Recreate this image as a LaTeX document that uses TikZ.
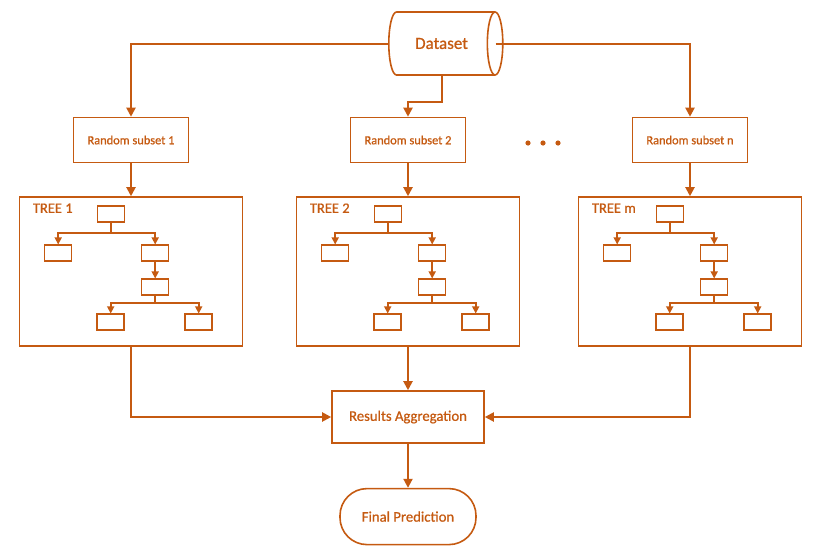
\documentclass[tikz,border=0pt]{standalone}
\usepackage{xcolor}
\usepackage{fontspec}
\setmainfont{Carlito}[FakeBold=0.8]
\usepackage{tikz}
\usetikzlibrary{shapes.geometric, arrows.meta, positioning, calc}
\definecolor{rforange}{RGB}{197, 90, 17}

\tikzset{
    flowline/.style={draw=rforange, line width=2pt, -{Triangle[length=9pt, width=9pt]}},
    subsetbox/.style={draw=rforange, line width=1.6pt, text=rforange, minimum width=115pt,
          minimum height=45pt, font=\fontsize{12.4}{14}\selectfont},
    treebox/.style={draw=rforange, line width=1.6pt, minimum width=223pt, minimum height=149pt},
    leafbox/.style={draw=rforange, line width=1.5pt, minimum width=27pt, minimum height=16pt, inner sep=0pt},
    treeline/.style={draw=rforange, line width=1.6pt, -{Triangle[length=7pt, width=7pt]}},
}

\begin{document}
\begin{tikzpicture}[x=1pt, y=-1pt]
    \useasboundingbox (0,0) rectangle (823,552);

    % source
    \node[cylinder, draw=rforange, line width=1.6pt, text=rforange, aspect=1.4,
          minimum width=63pt, minimum height=114pt, inner sep=0pt, anchor=west,
          font=\fontsize{17}{20}\selectfont] (dataset) at (388,43.5) {Dataset};

    % subsets and trees
    \foreach \i/\cx/\s/\t in {1/131/1/1, 2/408/2/2, 3/690/n/m} {
        \node[subsetbox] (subset\i) at (\cx,140) {Random subset \s};
        \node[treebox] (tree\i) at (\cx,271.5) {};
        \node[anchor=west, inner sep=0pt, text=rforange, font=\fontsize{14.5}{16}\selectfont]
              (tree\i-label) at ($(tree\i.north west)+(14,12)$) {TREE \t};
        \node[leafbox] (tree\i-root) at ($(tree\i.north west)+(92.5,18)$) {};
        \node[leafbox] (tree\i-left) at ($(tree\i.north west)+(39.5,57)$) {};
        \node[leafbox] (tree\i-right) at ($(tree\i.north west)+(136.5,57)$) {};
        \node[leafbox] (tree\i-mid) at ($(tree\i.north west)+(136.5,91)$) {};
        \node[leafbox] (tree\i-bl) at ($(tree\i.north west)+(92,126)$) {};
        \node[leafbox] (tree\i-br) at ($(tree\i.north west)+(180,126)$) {};
        \draw[treeline] (tree\i-root.south) -- ++(0,10) -| (tree\i-left.north);
        \draw[treeline] (tree\i-root.south) -- ++(0,10) -| (tree\i-right.north);
        \draw[treeline] (tree\i-right.south) -- (tree\i-mid.north);
        \draw[treeline] (tree\i-mid.south) -- ++(0,7) -| (tree\i-bl.north);
        \draw[treeline] (tree\i-mid.south) -- ++(0,7) -| (tree\i-br.north);
        \draw[flowline] (subset\i.south) -- (tree\i.north);
    }

    \foreach \x in {528,543,558}
        \fill[rforange] (\x,143) circle (2.6pt);

    \node[draw=rforange, line width=1.6pt, text=rforange, minimum width=152pt, minimum height=52pt,
          font=\fontsize{14.7}{17}\selectfont] (aggregation) at (408,417) {Results Aggregation};
    \node[draw=rforange, line width=1.6pt, text=rforange, rounded corners=27pt, minimum width=136pt,
          minimum height=56pt, font=\fontsize{14.7}{17}\selectfont, below=44pt of aggregation]
          (prediction) {Final Prediction};

    % connectors
    \draw[flowline] (dataset.west) -| (subset1.north);
    \draw[flowline] ([xshift=-8pt]dataset.east) -| (subset3.north);
    \draw[flowline] (dataset.south) -- ++(0,26) -| (subset2.north);
    \draw[flowline] (tree1.south) |- (aggregation.west);
    \draw[flowline] (tree2.south) -- (aggregation.north);
    \draw[flowline] (tree3.south) |- (aggregation.east);
    \draw[flowline] (aggregation.south) -- (prediction.north);
\end{tikzpicture}
\end{document}
